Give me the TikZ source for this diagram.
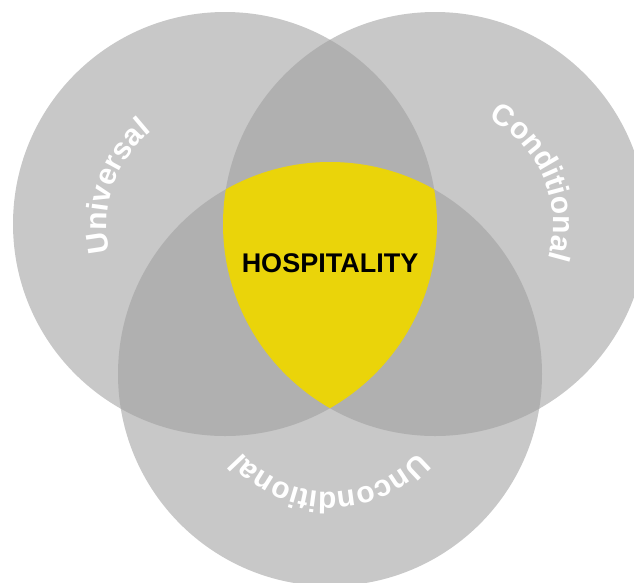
\documentclass[tikz,border=0pt]{standalone}
\usepackage{fontspec}
\setmainfont{Liberation Sans}
\usetikzlibrary{decorations.text}
\definecolor{venncolor0001}{RGB}{200,200,200}
\definecolor{venncolor0002}{RGB}{176,176,176}
\definecolor{venncolor0003}{RGB}{234,212,10}
\newcommand{\vennfont}{\fontsize{27pt}{27pt}\selectfont\bfseries}
\newcommand{\arcfont}{\fontsize{30pt}{30pt}\selectfont\bfseries}

\begin{document}
\begin{tikzpicture}[
pstyle0/.style={fill=venncolor0001},
pstyle1/.style={fill=venncolor0002},
pstyle2/.style={fill=venncolor0003},
pstyle3/.style={decorate,decoration={text along path,text align=center,text color=white,text={|\arcfont|#1}}},
]
\fill[white] (0pt,0pt) rectangle (634pt,-582pt);
\useasboundingbox (0pt,0pt) rectangle (634pt,-582pt);
\coordinate (uni) at (225pt,-224pt);
\coordinate (con) at (435pt,-224pt);
\coordinate (unc) at (330pt,-374pt);
\fill[pstyle0] (uni) circle (212pt);
\fill[pstyle0] (con) circle (212pt);
\fill[pstyle0] (unc) circle (212pt);
\begin{scope}
\clip (uni) circle (212pt);
\fill[pstyle1] (con) circle (212pt);
\fill[pstyle1] (unc) circle (212pt);
\end{scope}
\begin{scope}
\clip (con) circle (212pt);
\fill[pstyle1] (unc) circle (212pt);
\clip (uni) circle (212pt);
\fill[pstyle2] (unc) circle (212pt);
\end{scope}
\path[pstyle3=Universal] (uni) ++(221:118pt) arc[start angle=221,end angle=101,radius=118pt];
\path[pstyle3=Conditional] (con) ++(83:118pt) arc[start angle=83,end angle=-37,radius=118pt];
\path[pstyle3=Unconditional] (unc) ++(-30:118pt) arc[start angle=-30,end angle=-150,radius=118pt];
\node[font=\vennfont,inner sep=0pt] (hosp) at (330pt,-263.5pt) {HOSPITALITY};
\end{tikzpicture}
\end{document}
